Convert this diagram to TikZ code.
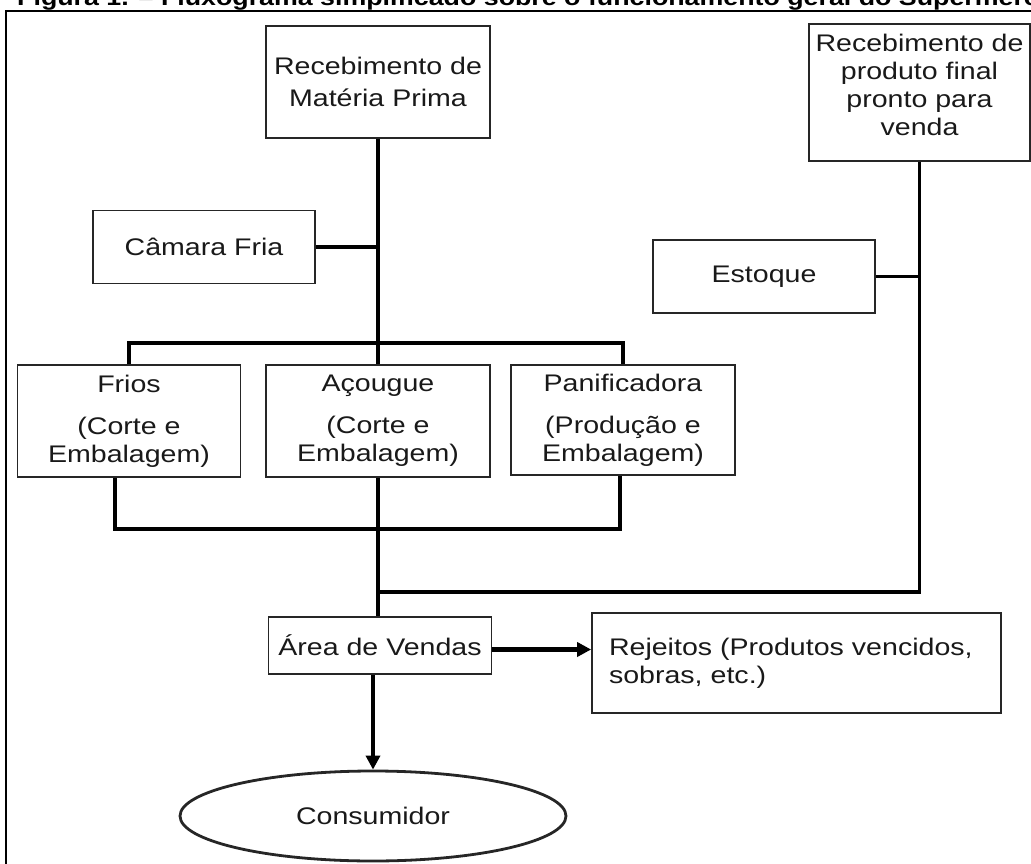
\documentclass[tikz,border=0pt]{standalone}
\usepackage{fontspec}
\setmainfont{Liberation Sans}[FakeStretch=1.19]
\usetikzlibrary{shapes.geometric,arrows.meta}
\begin{document}
\begin{tikzpicture}[x=1pt,y=-1pt,
  box/.style={draw=black!85, line width=1.7pt, inner sep=0pt, align=center,
    text=black!90, font=\fontsize{24}{28}\selectfont},
  link/.style={line width=3.4pt, black},
  arr/.style={link, -{Triangle[length=14pt,width=14pt]}}]
\begin{scope}
\clip (0,0) rectangle (1031,864);
\node[anchor=base west, inner sep=0pt, font=\bfseries\fontsize{22.5}{24}\selectfont] (title) at (17,5.5)
  {Figura 1. – Fluxograma simplificado sobre o funcionamento geral do Supermercado};
\draw[line width=2.2pt] (6,11) rectangle (1060,890);

\node[box, minimum width=224pt, minimum height=112pt] (rmp) at (378,82)
  {Recebimento de\\[4pt]Matéria Prima};
\node[box, minimum width=222pt, minimum height=73pt] (cf) at (204,247) {Câmara Fria};
\node[box, minimum width=223pt, minimum height=112pt] (frios) at (129,421)
  {Frios\\[14pt](Corte e\\Embalagem)};
\node[box, minimum width=224pt, minimum height=112pt] (acougue) at (378,421)
  {Açougue\\[14pt](Corte e\\Embalagem)};
\node[box, minimum width=224pt, minimum height=110pt] (pan) at (623,420)
  {Panificadora\\[14pt](Produção e\\Embalagem)};
\node[box, minimum width=221pt, minimum height=137pt] (rpf) at (919.5,92.5)
  {Recebimento de\\produto final\\pronto para\\venda\\[-12pt]\mbox{}};
\node[box, minimum width=222pt, minimum height=73pt] (est) at (764,276.5) {Estoque};
\node[box, minimum width=223pt, minimum height=57pt] (av) at (380,645.5) {Área de Vendas};
\node[box, minimum height=100pt, text width=375pt, inner xsep=17pt, align=left] (rej) at (796.5,663)
  {Rejeitos (Produtos vencidos,\\sobras, etc.)};
\node[box, ellipse, line width=2.8pt, minimum width=386pt, minimum height=90pt] (cons) at (373,816) {Consumidor};

\coordinate (bar) at (0,343);
\coordinate (fb) at (115,529);
\coordinate (pb) at (620,529);
\coordinate (jy) at (0,592);

\draw[link] (rmp.south) -- (acougue.north);
\draw[link] (cf.east) -- (cf.east -| rmp.south);
\draw[link] (frios.north) -- (frios.north |- bar) -- (pan.north |- bar) -- (pan.north);
\draw[link] (frios.south -| fb) -- (fb) -- (pb) -- (pan.south -| pb);
\draw[link] (acougue.south) -- (acougue.south |- av.north);
\draw[link] (rpf.south) -- (rpf.south |- jy) -- (acougue.south |- jy);
\draw[link] (est.east) -- (est.east -| rpf.south);
\draw[arr, line width=4.2pt] ([yshift=-4pt]av.east) -- ([yshift=-4pt]av.east -| rej.west);
\draw[arr] (cons.north |- av.south) -- (cons.north);
\end{scope}
\pgfresetboundingbox
\useasboundingbox (0,0) rectangle (1031,864);
\end{tikzpicture}
\end{document}
